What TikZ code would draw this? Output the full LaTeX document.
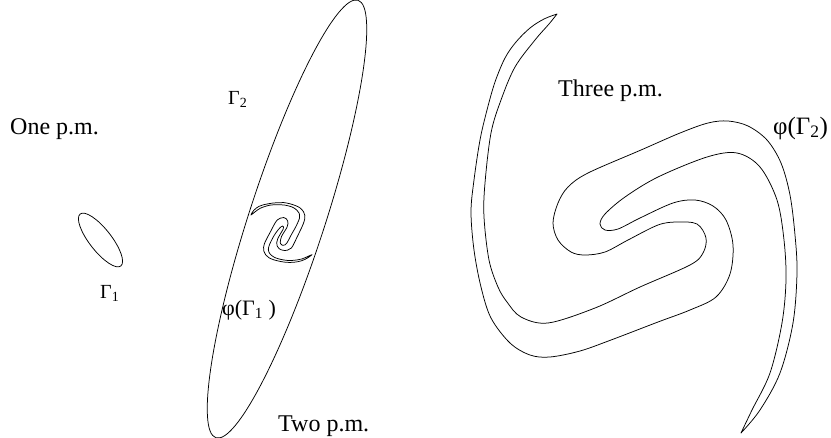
\documentclass[tikz,border=0pt]{standalone}
\usepackage{fontspec}
\setmainfont{Liberation Serif}
\begin{document}
\begin{tikzpicture}[x=1pt,y=-1pt,
  curve/.style={line width=0.75pt, line join=round},
  lbl/.style={inner sep=0pt, anchor=base west, font=\fontsize{24}{28}\selectfont},
  glbl/.style={inner sep=0pt, anchor=base west, font=\fontsize{20}{24}\selectfont},
  bigS/.pic={
    \draw[curve] plot[smooth, tension=0.55] coordinates {
      (557,14) (544,19) (530,28) (516,42) (505,58) (495,82) (487,110) (480,140)
      (474,180) (471,212) (474,250) (481,287) (491,318) (510,343) (530,355) (550,357)
      (580,351) (611,340) (658,322) (690,310) (716,297) (730,274) (733,245)
      (726,220) (713,206) (695,200) (673,203) (640,218) (618,229) (605,230)
      (600,224) (605,214) (625,197) (658,177) (707,157) (737,153) (760,167)
      (777,200) (784,240) (786,280) (782,323) (770,373) (752,410) (741,433)}
    -- plot[smooth, tension=0.55] coordinates {
      (741,433) (760,410) (780,373) (793,323) (797,273) (795,235) (790,195)
      (781,163) (767,140) (748,126) (728,121) (708,123) (680,133) (641,150)
      (588,173) (568,187) (558,203) (553,223) (558,240) (571,252) (585,255)
      (605,252) (628,240) (658,225) (677,222) (697,224) (706,238) (703,253)
      (690,265) (640,287) (595,308) (548,323) (521,317) (507,302) (498,287)
      (489,260) (484,217) (485,183) (491,133) (501,100) (515,67) (535,40)
      (549,24) (557,14)}
    -- cycle;
  }]
\useasboundingbox (0,0) rectangle (831,437);

% Gamma_1 small ellipse
\draw[curve, rotate around={-52:(100.5,240)}] (100.5,240) ellipse [x radius=33, y radius=11];
% Gamma_2 big ellipse
\draw[curve, rotate around={72:(287,219)}] (287,219) ellipse [x radius=230, y radius=38];

% phi(Gamma_2)
\pic {bigS};
% phi(Gamma_1): small mirrored copy
\begin{scope}[shift={(262.2pt,-114.5pt)}, x={(-0.0241pt,-0.18pt)}, y={(0.1562pt,-0.0157pt)}]
  \pic {bigS};
\end{scope}

\node[lbl] (one) at (10,134) {One p.m.};
\node[lbl] (two) at (278,431) {Two p.m.};
\node[lbl] (three) at (558,96) {Three p.m.};
\node[lbl, font=\fontsize{25}{29}\selectfont] (phig2) at (773,134) {φ(Γ\textsubscript{2})};
\node[glbl] (g1) at (100,298) {Γ\textsubscript{1}};
\node[glbl] (g2) at (228,104) {Γ\textsubscript{2}};
\node[lbl, font=\fontsize{22}{26}\selectfont] (phig1) at (222,315) {φ(Γ\textsubscript{1} )};
\end{tikzpicture}
\end{document}
